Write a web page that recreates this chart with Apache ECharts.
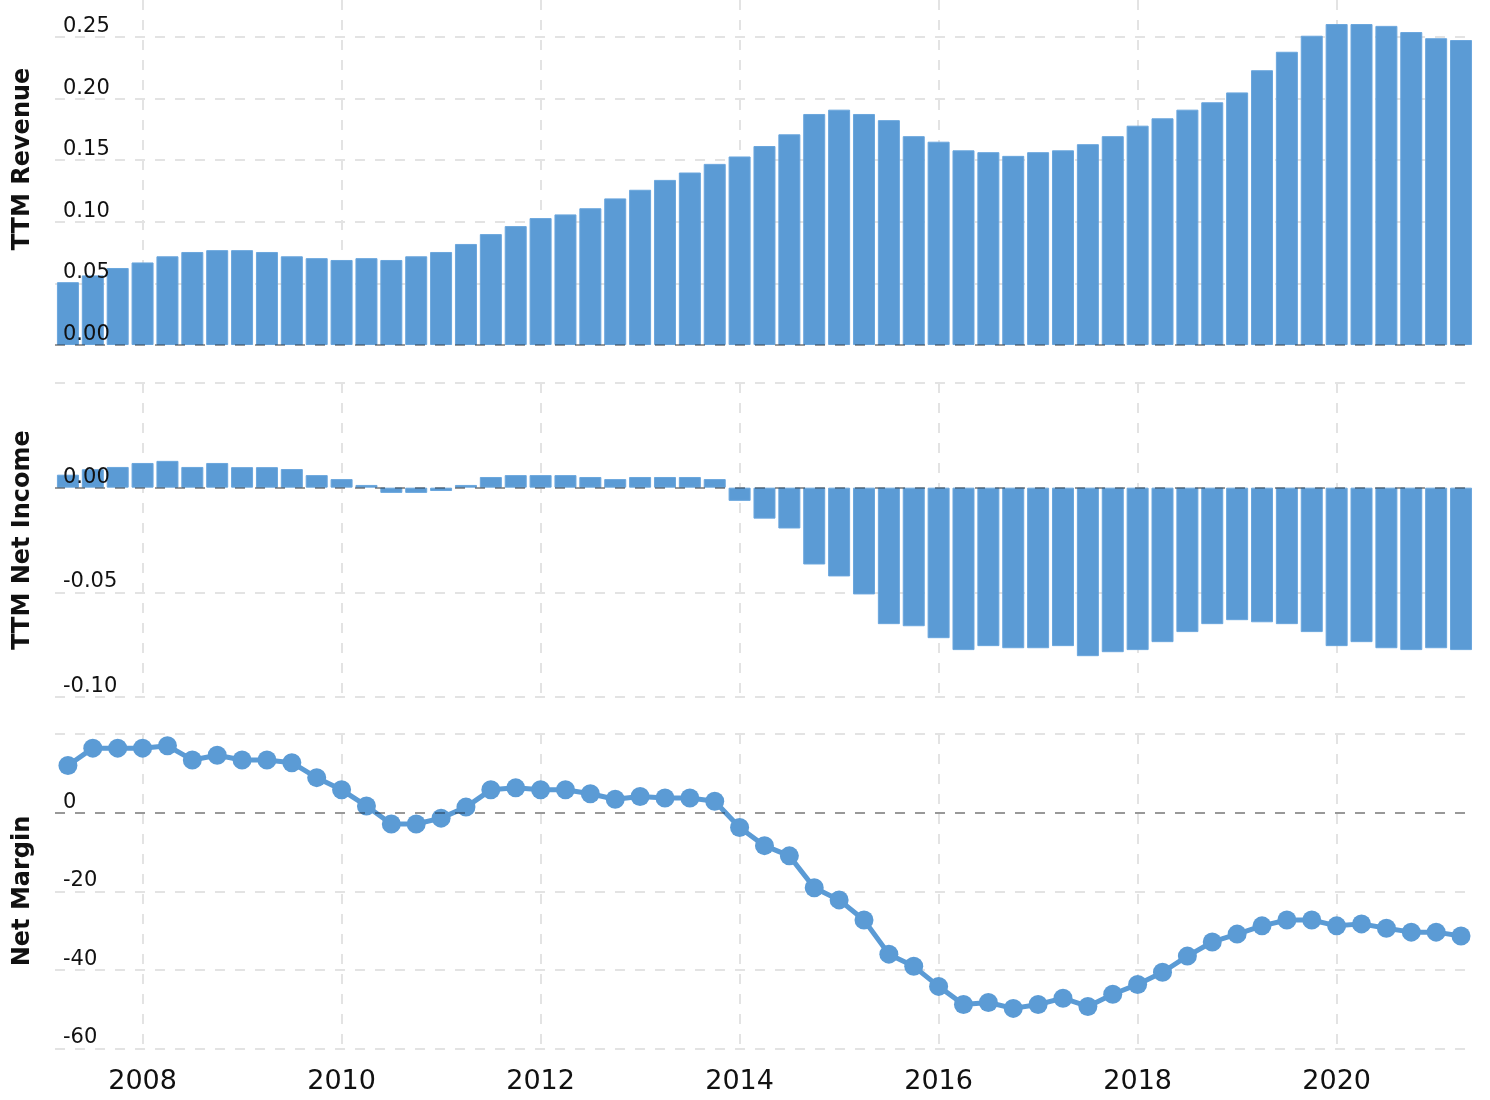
<!DOCTYPE html>
<html>
<head>
<meta charset="utf-8">
<script src="https://cdn.jsdelivr.net/npm/echarts@6/dist/echarts.min.js"></script>
<style>
  html, body { margin: 0; padding: 0; background: #fff; }
  #main { width: 1490px; height: 1100px; }
</style>
</head>
<body>
<div id="main"></div>
<script>
// quarter ends
var quarters = [
  '2007-03-31', '2007-06-30', '2007-09-30', '2007-12-31',
  '2008-03-31', '2008-06-30', '2008-09-30', '2008-12-31',
  '2009-03-31', '2009-06-30', '2009-09-30', '2009-12-31',
  '2010-03-31', '2010-06-30', '2010-09-30', '2010-12-31',
  '2011-03-31', '2011-06-30', '2011-09-30', '2011-12-31',
  '2012-03-31', '2012-06-30', '2012-09-30', '2012-12-31',
  '2013-03-31', '2013-06-30', '2013-09-30', '2013-12-31',
  '2014-03-31', '2014-06-30', '2014-09-30', '2014-12-31',
  '2015-03-31', '2015-06-30', '2015-09-30', '2015-12-31',
  '2016-03-31', '2016-06-30', '2016-09-30', '2016-12-31',
  '2017-03-31', '2017-06-30', '2017-09-30', '2017-12-31',
  '2018-03-31', '2018-06-30', '2018-09-30', '2018-12-31',
  '2019-03-31', '2019-06-30', '2019-09-30', '2019-12-31',
  '2020-03-31', '2020-06-30', '2020-09-30', '2020-12-31',
  '2021-03-31'
];

var revenue = [
  0.051, 0.0565, 0.0625, 0.067, 0.072, 0.0755, 0.077, 0.077, 0.0755, 0.072,
  0.0705, 0.069, 0.0705, 0.069, 0.072, 0.0755, 0.082, 0.090, 0.0965, 0.103,
  0.106, 0.111, 0.119, 0.126, 0.134, 0.140, 0.147, 0.153, 0.1615, 0.171,
  0.1875, 0.191, 0.1875, 0.1825, 0.1695, 0.165, 0.158, 0.1565, 0.1535, 0.1565,
  0.158, 0.163, 0.1695, 0.178, 0.184, 0.191, 0.197, 0.205, 0.223, 0.238,
  0.251, 0.2605, 0.2605, 0.259, 0.254, 0.249, 0.2475
];

var netIncome = [
  0.0062, 0.0088, 0.0099, 0.0118, 0.0128, 0.0099, 0.0118, 0.0098, 0.0098, 0.0089,
  0.006, 0.0041, 0.0013, -0.0025, -0.0025, -0.0016, 0.0013, 0.0051, 0.006, 0.006,
  0.006, 0.0051, 0.0041, 0.0051, 0.0051, 0.0051, 0.0041, -0.0063, -0.0148, -0.0195,
  -0.0367, -0.0424, -0.051, -0.0652, -0.0662, -0.0719, -0.0776, -0.0757, -0.0767, -0.0767,
  -0.0757, -0.0805, -0.0786, -0.0776, -0.0738, -0.069, -0.0652, -0.0633, -0.0643, -0.0652,
  -0.069, -0.0757, -0.0738, -0.0767, -0.0776, -0.0767, -0.0776
];

var netMargin = [
  12.0, 16.4, 16.4, 16.4, 17.0, 13.4, 14.6, 13.4, 13.4, 12.7,
  8.9, 5.8, 1.7, -2.9, -2.9, -1.4, 1.4, 5.8, 6.3, 5.8,
  5.8, 4.8, 3.4, 4.1, 3.7, 3.7, 2.9, -3.8, -8.4, -11.0,
  -19.1, -22.2, -27.3, -36.0, -39.1, -44.2, -48.8, -48.3, -49.8, -48.8,
  -47.2, -49.3, -46.2, -43.7, -40.6, -36.5, -32.9, -30.9, -28.8, -27.3,
  -27.3, -28.8, -28.3, -29.4, -30.4, -30.4, -31.4
];

var yearTicks = [2008, 2010, 2012, 2014, 2016, 2018, 2020];

var blue = '#5b9bd5';
var gridGray = '#e3e3e3';
var zeroGray = 'rgba(0,0,0,0.33)';
var font = 'DejaVu Sans';
var dash = [10, 10];

function toYear(d) {
  var p = d.split('-');
  return +p[0] + (+p[1]) / 12;
}
function pairs(vals) {
  return vals.map(function (v, i) { return [toYear(quarters[i]), v]; });
}

function xAxisFor(gi, showLabels) {
  return {
    type: 'value', gridIndex: gi, min: 2007.12, max: 2021.3,
    axisLine: { show: false },
    axisTick: { show: false, customValues: yearTicks },
    axisLabel: {
      show: showLabels, customValues: yearTicks,
      formatter: function (v) { return String(v); },
      fontSize: 27, fontFamily: font, color: '#111', margin: 20
    },
    splitLine: { show: true, lineStyle: { color: gridGray, width: 2, type: dash } }
  };
}

// one axis draws the grid lines under the marks, the other the labels above them
function yAxesFor(gi, min, max, interval, lineColors, fmt) {
  return [{
    type: 'value', gridIndex: gi, min: min, max: max, interval: interval, position: 'left',
    axisLine: { show: false }, axisTick: { show: false }, axisLabel: { show: false },
    splitLine: { show: true, lineStyle: { color: lineColors, width: 2, type: dash } }
  }, {
    type: 'value', gridIndex: gi, min: min, max: max, interval: interval, position: 'left', z: 10,
    axisLine: { show: false }, axisTick: { show: false }, splitLine: { show: false },
    axisLabel: {
      inside: true, margin: 8, showMaxLabel: false,
      fontSize: 21, fontFamily: font, color: '#111', verticalAlign: 'bottom',
      formatter: fmt
    }
  }];
}

var zeroLine = {
  silent: true, symbol: 'none', animation: false,
  label: { show: false },
  lineStyle: { color: zeroGray, width: 2, type: dash },
  data: [{ yAxis: 0 }]
};

var g = gridGray;
var option = {
  animation: false,
  backgroundColor: '#fff',
  grid: [
    { left: 55, right: 24, top: 0, height: 345 },
    { left: 55, right: 24, top: 383, height: 314 },
    { left: 55, right: 24, top: 734, height: 314.5 }
  ],
  xAxis: [xAxisFor(0, false), xAxisFor(1, false), xAxisFor(2, true)],
  yAxis: [].concat(
    yAxesFor(0, 0, 0.28, 0.05, [g, g, g, g, g, g, 'rgba(0,0,0,0)'], function (v) { return v.toFixed(2); }),
    yAxesFor(1, -0.10, 0.05, 0.05, [g], function (v) { return v.toFixed(2); }),
    yAxesFor(2, -60, 20, 20, [g], function (v) { return String(v); })
  ),
  graphic: [
    { type: 'text', x: 23, y: 159, rotation: Math.PI / 2,
      style: { text: 'TTM Revenue', font: 'bold 24px "DejaVu Sans"', fill: '#111', align: 'center', verticalAlign: 'middle' } },
    { type: 'text', x: 23, y: 540, rotation: Math.PI / 2,
      style: { text: 'TTM Net Income', font: 'bold 24px "DejaVu Sans"', fill: '#111', align: 'center', verticalAlign: 'middle' } },
    { type: 'text', x: 23, y: 891, rotation: Math.PI / 2,
      style: { text: 'Net Margin', font: 'bold 24px "DejaVu Sans"', fill: '#111', align: 'center', verticalAlign: 'middle' } }
  ],
  series: [
    {
      name: 'TTM Revenue', type: 'bar', xAxisIndex: 0, yAxisIndex: 0,
      data: pairs(revenue), barWidth: 22, clip: false,
      itemStyle: { color: blue, borderColor: '#6aa6dd', borderWidth: 1 },
      markLine: zeroLine
    },
    {
      name: 'TTM Net Income', type: 'bar', xAxisIndex: 1, yAxisIndex: 2,
      data: pairs(netIncome), barWidth: 22, clip: false,
      itemStyle: { color: blue, borderColor: '#6aa6dd', borderWidth: 1 },
      markLine: zeroLine
    },
    {
      name: 'Net Margin', type: 'line', xAxisIndex: 2, yAxisIndex: 4,
      data: pairs(netMargin), symbol: 'circle', symbolSize: 19, clip: false,
      lineStyle: { color: blue, width: 5 },
      itemStyle: { color: blue },
      markLine: zeroLine
    }
  ]
};

var chart = echarts.init(document.getElementById('main'));
chart.setOption(option);
</script>
</body>
</html>
